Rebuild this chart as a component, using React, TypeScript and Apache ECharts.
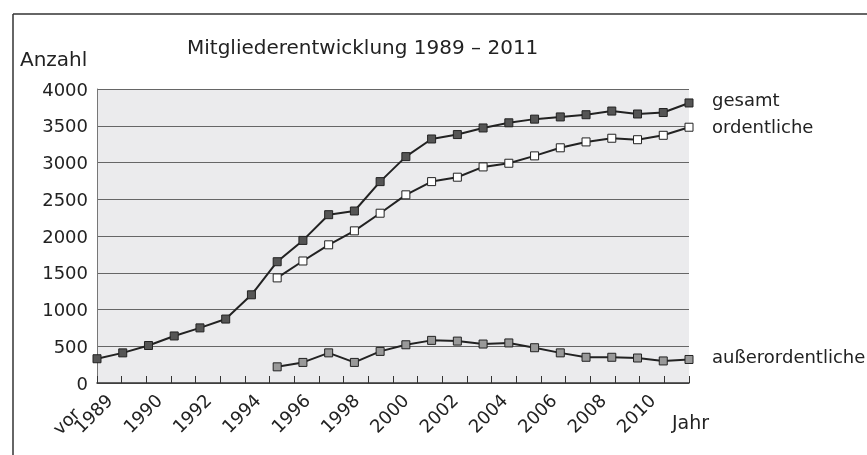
import React, { useEffect, useRef } from "react";
import * as echarts from "echarts";

const years = [
  "vor 1989", "1989", "1990", "1991", "1992", "1993", "1994", "1995", "1996", "1997", "1998", "1999",
  "2000", "2001", "2002", "2003", "2004", "2005", "2006", "2007", "2008", "2009", "2010", "2011",
];
const gesamt = [330, 410, 510, 640, 750, 870, 1200, 1650, 1940, 2290, 2340, 2740, 3080, 3320, 3380, 3470, 3540, 3590, 3620, 3650, 3700, 3660, 3680, 3810];
const ordentliche = [null, null, null, null, null, null, null, 1430, 1660, 1880, 2070, 2310, 2560, 2740, 2800, 2940, 2990, 3090, 3200, 3280, 3330, 3310, 3370, 3480];
const ausser = [null, null, null, null, null, null, null, 220, 280, 410, 280, 430, 520, 580, 570, 530, 545, 480, 410, 350, 350, 340, 300, 320];

const FONT = "DejaVu Sans";
const TXT = "#222";

export default function App() {
  const ref = useRef<HTMLDivElement>(null);
  useEffect(() => {
    if (!ref.current) return;
    const chart = echarts.init(ref.current, null, { renderer: "svg" });
    const mkSeries = (name: string, data: (number | null)[], fill: string, off: number) => ({
      type: "line",
      name,
      data,
      xAxisIndex: 1,
      symbol: "rect",
      symbolSize: 8,
      lineStyle: { color: "#222", width: 2 },
      itemStyle: { color: fill, borderColor: "#222", borderWidth: 1 },
      endLabel: {
        show: true,
        formatter: name,
        distance: 23,
        offset: [0, off],
        fontFamily: FONT,
        fontSize: 18,
        color: TXT,
      },
      emphasis: { disabled: true },
    });
    chart.setOption({
      animation: false,
      textStyle: { fontFamily: FONT },
      grid: {
        left: 97,
        right: 178,
        top: 89,
        bottom: 72,
        show: true,
        backgroundColor: "#ebebed",
        borderWidth: 0,
        outerBoundsMode: "none",
        containLabel: false,
      },
      xAxis: [
        {
          type: "category",
          data: years,
          boundaryGap: true,
          axisLine: { show: true, lineStyle: { color: "#333", width: 1.5 } },
          axisTick: { show: true, inside: true, length: 7, interval: 0, lineStyle: { color: "#333", width: 1 } },
          axisLabel: {
            interval: 1,
            rotate: 45,
            margin: 14,
            showMinLabel: true,
            hideOverlap: false,
            fontFamily: FONT,
            fontSize: 18,
            color: TXT,
            formatter: (v: string) => v.replace("vor ", ""),
          },
          splitLine: { show: false },
        },
        {
          type: "category",
          data: years,
          boundaryGap: false,
          show: false,
        },
      ],
      yAxis: {
        type: "value",
        min: 0,
        max: 4000,
        interval: 500,
        axisLine: { show: true, lineStyle: { color: "#777", width: 1 } },
        axisTick: { show: false },
        axisLabel: { margin: 9, fontFamily: FONT, fontSize: 18, color: TXT, formatter: (v: number) => String(v) },
        splitLine: { show: true, lineStyle: { color: "#666", width: 1 } },
      },
      series: [
        mkSeries("gesamt", gesamt, "#555", -3),
        mkSeries("ordentliche", ordentliche, "#fff", -1),
        mkSeries("außerordentliche", ausser, "#999", -3),
      ],
      graphic: [
        { type: "line", shape: { x1: 13, y1: 14, x2: 867, y2: 14 }, style: { stroke: "#333", lineWidth: 1.5 } },
        { type: "line", shape: { x1: 13, y1: 14, x2: 13, y2: 455 }, style: { stroke: "#333", lineWidth: 1.5 } },
        {
          type: "text",
          x: 66,
          y: 421,
          rotation: Math.PI / 4,
          style: { text: "vor", fontFamily: FONT, fontSize: 18, fill: TXT, align: "center", verticalAlign: "middle" },
        },
        {
          type: "text",
          x: 187,
          y: 47,
          style: { text: "Mitgliederentwicklung 1989 – 2011", fontFamily: FONT, fontSize: 20, fill: TXT, verticalAlign: "middle" },
        },
        {
          type: "text",
          x: 20,
          y: 59,
          style: { text: "Anzahl", fontFamily: FONT, fontSize: 20, fill: TXT, verticalAlign: "middle" },
        },
        {
          type: "text",
          x: 672,
          y: 422,
          style: { text: "Jahr", fontFamily: FONT, fontSize: 19, fill: TXT, verticalAlign: "middle" },
        },
      ],
    });
    return () => chart.dispose();
  }, []);
  return <div ref={ref} style={{ position: "fixed", left: 0, top: 0, width: 867, height: 455 }} />;
}
